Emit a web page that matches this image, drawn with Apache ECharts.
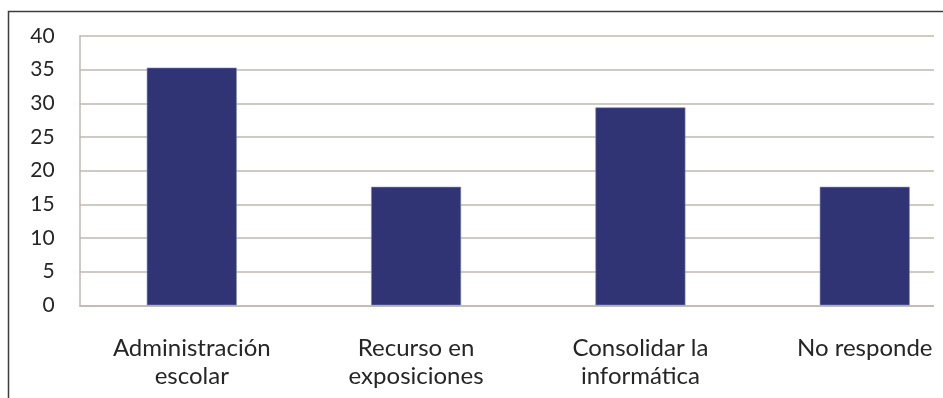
<!DOCTYPE html>
<html>
<head>
<meta charset="utf-8">
<script src="https://cdn.jsdelivr.net/npm/echarts@6/dist/echarts.min.js"></script>
<style>
  html, body { margin: 0; padding: 0; background: #ffffff; }
  #chart { width: 943px; height: 398px; }
</style>
</head>
<body>
<div id="chart"></div>
<script>
// Categories and percentages for each response
const categories = [
  'Administración\nescolar',
  'Recurso en\nexposiciones',
  'Consolidar la\ninformática',
  'No responde'
];
const values = [35.3, 17.6, 29.4, 17.6];

// Value axis ticks
const yMin = 0;
const yMax = 40;
const yStep = 5;

const gridColor = '#c0b9b1';
const textColor = '#262626';
const fontFamily = 'Lato, "Open Sans", sans-serif';

const chart = echarts.init(document.getElementById('chart'), null, { renderer: 'canvas' });

chart.setOption({
  animation: false,
  backgroundColor: '#ffffff',
  grid: {
    left: 79.6,
    top: 36,
    width: 897.3,
    height: 269.3,
    containLabel: false,
    outerBoundsMode: 'none'
  },
  xAxis: {
    type: 'category',
    data: categories,
    axisLine: { show: true, lineStyle: { color: gridColor, width: 1.5 } },
    axisTick: { show: false },
    axisLabel: {
      color: textColor,
      fontFamily: fontFamily,
      fontSize: 24,
      lineHeight: 28,
      margin: 29,
      interval: 0
    }
  },
  yAxis: {
    type: 'value',
    min: yMin,
    max: yMax,
    interval: yStep,
    axisLine: { show: true, lineStyle: { color: gridColor, width: 1.5 } },
    axisTick: { show: false },
    splitLine: { show: true, lineStyle: { color: gridColor, width: 1.5 } },
    axisLabel: {
      color: textColor,
      fontFamily: fontFamily,
      fontSize: 21,
      margin: 25
    }
  },
  series: [{
    type: 'bar',
    data: values,
    barWidth: 90,
    itemStyle: {
      color: '#313474',
      borderColor: '#7d8fc4',
      borderWidth: 0.6
    }
  }],
  graphic: [
    // blank strip where the plot area is cut off on the right
    {
      type: 'rect',
      shape: { x: 934, y: 25, width: 20, height: 290 },
      style: { fill: '#ffffff' },
      z: 100
    },
    // outer frame around the chart
    {
      type: 'rect',
      shape: { x: 8.5, y: 11.5, width: 1000, height: 500 },
      style: { fill: 'none', stroke: '#3c3c3c', lineWidth: 1.5 },
      z: 101
    }
  ]
});
</script>
</body>
</html>
